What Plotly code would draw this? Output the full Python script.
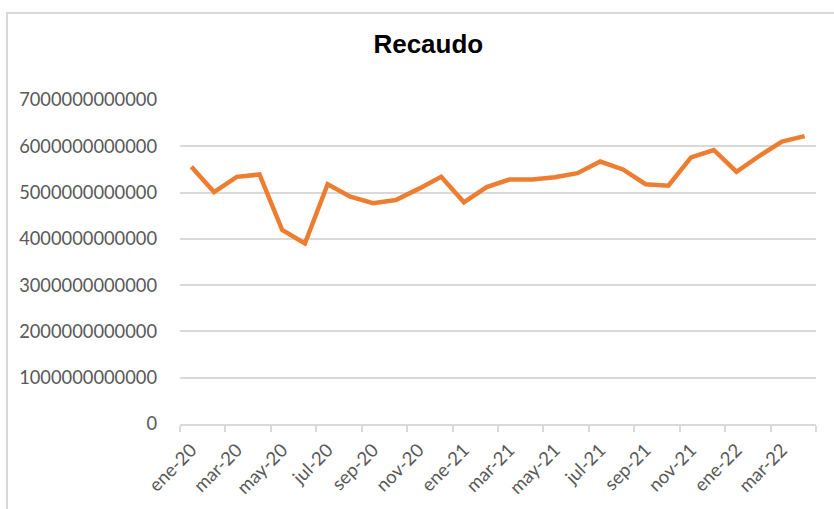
import plotly.graph_objects as go

# Monthly revenue collection, Jan 2020 - Apr 2022
months = [
    "ene-20", "feb-20", "mar-20", "abr-20", "may-20", "jun-20", "jul-20",
    "ago-20", "sep-20", "oct-20", "nov-20", "dic-20",
    "ene-21", "feb-21", "mar-21", "abr-21", "may-21", "jun-21", "jul-21",
    "ago-21", "sep-21", "oct-21", "nov-21", "dic-21",
    "ene-22", "feb-22", "mar-22", "abr-22",
]
recaudo = [
    5.56e12, 5.01e12, 5.34e12, 5.39e12, 4.19e12, 3.90e12, 5.18e12,
    4.91e12, 4.77e12, 4.84e12, 5.08e12, 5.34e12,
    4.79e12, 5.12e12, 5.28e12, 5.28e12, 5.33e12, 5.42e12, 5.67e12,
    5.50e12, 5.18e12, 5.15e12, 5.76e12, 5.92e12,
    5.45e12, 5.79e12, 6.10e12, 6.22e12,
]
y_ticks = [0, 1e12, 2e12, 3e12, 4e12, 5e12, 6e12, 7e12]

GRID = "#d9d9d9"
TEXT = "#595959"
FONT = "Lato, Calibri, Carlito, sans-serif"

fig = go.Figure(
    go.Scatter(
        x=months,
        y=recaudo,
        mode="lines",
        line=dict(color="#ED7D31", width=4.5, shape="linear"),
        hoverinfo="x+y",
    )
)

fig.update_layout(
    width=834,
    height=509,
    margin=dict(l=180, r=18, t=100, b=85),
    paper_bgcolor="white",
    plot_bgcolor="white",
    showlegend=False,
    title=dict(
        text="<b>Recaudo</b>",
        x=0.5136,
        xanchor="center",
        y=1 - 44 / 509,
        yanchor="middle",
        font=dict(family="Liberation Sans, Arial, sans-serif", size=26, color="black"),
    ),
    font=dict(family=FONT, color=TEXT),
    shapes=[
        # chart-area frame
        dict(
            type="rect",
            xref="paper",
            yref="paper",
            x0=(7 - 180) / 636,
            x1=1.2,
            y0=-0.6,
            y1=(424 - 13) / 324,
            line=dict(color=GRID, width=2),
            fillcolor="rgba(0,0,0,0)",
            layer="below",
        )
    ],
)

fig.update_xaxes(
    type="category",
    categoryorder="array",
    categoryarray=months,
    tickmode="linear",
    tick0=0,
    dtick=2,
    tickson="boundaries",
    ticks="outside",
    ticklen=6,
    tickwidth=1.5,
    tickcolor=GRID,
    tickangle=-45,
    ticklabelstandoff=6,
    tickfont=dict(family=FONT, size=18.5, color=TEXT),
    showline=True,
    linecolor=GRID,
    linewidth=2,
    showgrid=False,
    zeroline=False,
    range=[-0.5, len(months) - 0.5],
)

fig.update_yaxes(
    range=[0, 7e12],
    tickmode="array",
    tickvals=y_ticks,
    tickformat=".0f",
    tickfont=dict(family=FONT, size=18.3, color=TEXT),
    ticks="",
    ticklabelstandoff=22,
    showgrid=True,
    gridcolor=GRID,
    gridwidth=1.8,
    zeroline=False,
    showline=False,
)

fig.write_html("out.html")
